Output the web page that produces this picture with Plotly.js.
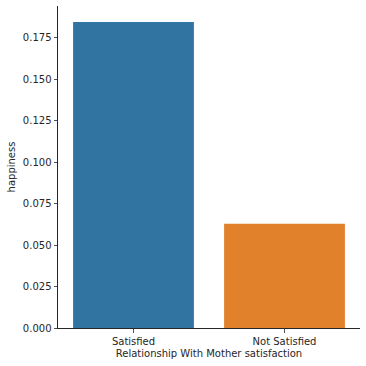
<!DOCTYPE html>
<html>
<head>
<meta charset="utf-8">
<script src="https://cdn.plot.ly/plotly-3.0.1.min.js"></script>
<style>html,body{margin:0;padding:0;background:#fff;}#chart{width:366px;height:366px;}</style>
</head>
<body>
<div id="chart"></div>
<script>
var categories = ["Satisfied", "Not Satisfied"];
var happiness = [0.1845, 0.0628];
var barColors = ["#3274a1", "#e1812c"];
var yTickVals = [0, 0.025, 0.05, 0.075, 0.1, 0.125, 0.15, 0.175];
var yTickText = ["0.000", "0.025", "0.050", "0.075", "0.100", "0.125", "0.150", "0.175"];

var trace = {
  type: "bar",
  x: [0, 1],
  y: happiness,
  width: 0.8,
  marker: {color: barColors, line: {width: 0}},
  hoverinfo: "none"
};

var layout = {
  width: 366, height: 366,
  margin: {l: 57.5, r: 6, t: 6, b: 38, pad: 0},
  paper_bgcolor: "#fff", plot_bgcolor: "#fff",
  font: {family: "DejaVu Sans", size: 10, color: "#262626"},
  showlegend: false,
  xaxis: {
    range: [-0.5, 1.5],
    tickvals: [0, 1], ticktext: categories,
    showgrid: false, zeroline: false,
    showline: true, linecolor: "#262626", linewidth: 1,
    ticks: "outside", ticklen: 3.5, tickwidth: 0.8, tickcolor: "#262626",
    tickfont: {size: 10, color: "#262626"},
    title: {text: "Relationship With Mother satisfaction", font: {size: 10, color: "#262626"}, standoff: 4},
    fixedrange: true
  },
  yaxis: {
    range: [0, 0.1941],
    tickvals: yTickVals, ticktext: yTickText,
    showgrid: false, zeroline: false,
    showline: true, linecolor: "#262626", linewidth: 1,
    ticks: "outside", ticklen: 3.5, tickwidth: 0.8, tickcolor: "#262626",
    tickfont: {size: 10, color: "#262626"},
    title: {text: "happiness", font: {size: 10, color: "#262626"}, standoff: 5},
    fixedrange: true
  }
};

Plotly.newPlot("chart", [trace], layout, {staticPlot: true, displayModeBar: false});
</script>
</body>
</html>
